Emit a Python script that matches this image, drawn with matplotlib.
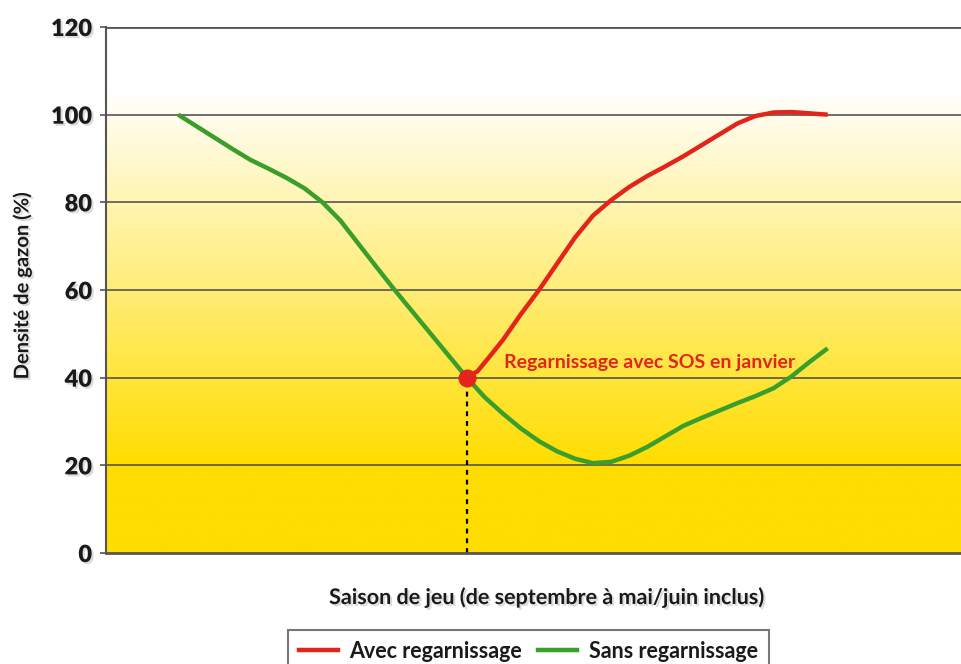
import numpy as np
import matplotlib
matplotlib.use('Agg')
import matplotlib.pyplot as plt
import matplotlib.patheffects as pe
from matplotlib.lines import Line2D

# x = month of the season (1 = septembre, 5 = janvier, 10 = juin)
green_x = [1, 1.25, 1.5, 1.75, 2, 2.25, 2.5, 2.75, 3, 3.25, 3.5, 3.75, 4, 4.25, 4.5, 4.75,
           5, 5.25, 5.5, 5.75, 6, 6.25, 6.5, 6.75, 7, 7.25, 7.5, 7.75, 8, 8.25, 8.5, 8.75,
           9, 9.25, 9.5, 9.75, 10]
green_y = [100, 97.4, 94.8, 92.2, 89.7, 87.7, 85.6, 83.2, 80, 75.8, 70.5, 65.2, 60, 55, 50, 45,
           40, 35.5, 31.8, 28.4, 25.5, 23.2, 21.5, 20.5, 20.8, 22.2, 24.2, 26.6, 29, 30.8, 32.5, 34.2,
           35.8, 37.6, 40.3, 43.6, 46.7]

red_x = [5, 5.15, 5.3, 5.5, 5.75, 6, 6.25, 6.5, 6.75, 7, 7.25, 7.5, 7.75, 8, 8.25, 8.5,
         8.75, 9, 9.25, 9.5, 9.75, 10]
red_y = [40, 41.5, 44.5, 48.6, 54.5, 60, 66, 72, 77, 80.5, 83.5, 86, 88.2, 90.5, 93, 95.5,
         98, 99.7, 100.5, 100.6, 100.3, 100]

regarn_x = 5
regarn_y = 40

yticks = [0, 20, 40, 60, 80, 100, 120]

FONT = 'Lato'
RED = '#e3241b'
GREEN = '#3a9e2a'

shadow = [pe.SimplePatchShadow(offset=(1.5, -1.5), shadow_rgbFace='#999999', alpha=0.35), pe.Normal()]


def gradient_image():
    # white above ~106, fading to gold at 20, solid below
    ys = np.linspace(0, 120, 600)
    frac = np.clip((106 - ys) / (106 - 20), 0, 1)
    top = np.array([255, 255, 255]) / 255.
    bot = np.array([255, 221, 0]) / 255.
    rgb = top[None, :] * (1 - frac[:, None]) + bot[None, :] * frac[:, None]
    return rgb[:, None, :]


def main():

    fig = plt.figure(figsize=(9.62, 6.64), dpi=100)
    ax = fig.add_axes([106/962, 111/664, 866/962, 526/664])

    ax.imshow(gradient_image(), extent=[0, 12, 0, 120], origin='lower',
              aspect='auto', zorder=0)
    ax.set_xlim(0, 12)
    ax.set_ylim(0, 120)

    for yv in yticks[1:]:
        lw = 2.0 if yv == 120 else 1.2
        ax.axhline(yv, color='#555555', lw=lw, zorder=1)

    ax.plot([regarn_x, regarn_x], [0, regarn_y], color='black', lw=1.6,
            ls=(0, (2.2, 2.2)), zorder=2)
    ax.plot(green_x, green_y, color=GREEN, lw=3.2, solid_capstyle='butt',
            solid_joinstyle='round', zorder=3)
    ax.plot(red_x, red_y, color=RED, lw=3.2, solid_capstyle='butt',
            solid_joinstyle='round', zorder=4)
    ax.plot([regarn_x], [regarn_y], 'o', color=RED, ms=12, zorder=5)

    ax.text(5.52, 43.5, 'Regarnissage avec SOS en janvier', color=RED,
            fontfamily=FONT, fontweight='bold', fontsize=14,
            va='center', ha='left', zorder=6)

    for s in ['top', 'right']:
        ax.spines[s].set_visible(False)
    ax.spines['left'].set_color('#555555')
    ax.spines['left'].set_linewidth(1.5)
    ax.spines['bottom'].set_color('#555555')
    ax.spines['bottom'].set_linewidth(2)

    ax.set_xticks([])
    ax.set_yticks(yticks)
    ax.set_yticklabels([str(v) for v in yticks], fontfamily=FONT,
                       fontweight='heavy', fontsize=17, color='#1a1a1a')
    ax.tick_params(axis='y', length=4, width=1.2, color='#555555', pad=6)
    for lab in ax.get_yticklabels():
        lab.set_path_effects(shadow)

    fig.text(22/962, 1 - 286/664, 'Densité de gazon (%)', rotation=90,
             ha='center', va='center', fontfamily=FONT, fontweight='bold',
             fontsize=14.5, color='#1a1a1a', path_effects=shadow)
    fig.text(546/962, 1 - 597/664, 'Saison de jeu (de septembre à mai/juin inclus)',
             ha='center', va='center', fontfamily=FONT, fontweight='bold',
             fontsize=15.5, color='#1a1a1a', path_effects=shadow)

    handles = [Line2D([], [], color=RED, lw=3.2),
               Line2D([], [], color=GREEN, lw=3.2)]
    leg = fig.legend(handles, ['Avec regarnissage', 'Sans regarnissage'],
                     loc='upper left', bbox_to_anchor=(288/962, 1 - 630/664),
                     ncol=2, frameon=True, fancybox=False, borderaxespad=0,
                     handlelength=1.8, handletextpad=0.55, columnspacing=0.75,
                     borderpad=0.5,
                     prop={'family': FONT, 'weight': 'bold', 'size': 15.5})
    leg.get_frame().set_edgecolor('#555555')
    leg.get_frame().set_linewidth(1.5)
    for t in leg.get_texts():
        t.set_color('#1a1a1a')

    fig.savefig('out.png', dpi=100)


if __name__ == "__main__":
    main()
